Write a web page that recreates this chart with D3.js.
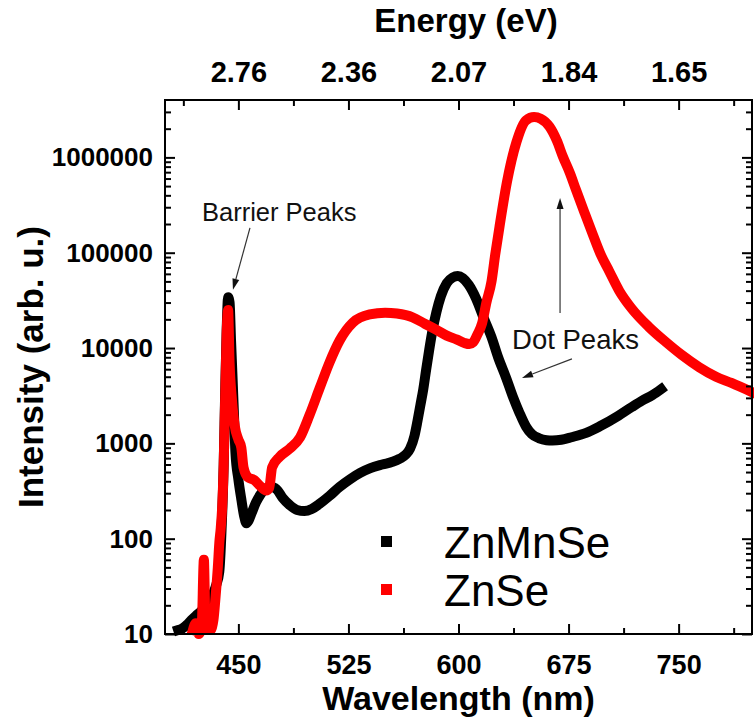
<!DOCTYPE html>
<html><head><meta charset="utf-8">
<script src="https://cdn.jsdelivr.net/npm/d3@7"></script>
<style>
body{margin:0;background:#fff}
svg{display:block}
text{font-family:"Liberation Sans",Arial,Helvetica,sans-serif}
</style>
</head><body>
<svg id="c" width="754" height="720"></svg>
<script>
// ---- data ----
const znmnseWl = [409,412,415,418,421,424,427,430,433,435,437,438.5,440,441,442,443,444,445,446,447,448,450,452,454,455.5,457,459,462,465,469,472,476,480,485,490,495,500,505,512,519,526,533,540,548,555,560,564,567,570,572,574,576,578,580,582,585,588,592,596,599.5,603,607,612,617,622.5,627,632.6,637,641.5,646,650,655,660,664,670,677,687,696,709,718,725,732,738];
const znmnseI  = [11,11.5,12.5,14,15.5,17,19,22,27,33,45,120,600,3400,15000,34000,30000,12000,5000,2000,800,420,260,170,145,155,185,240,290,340,350,330,270,225,200,195,205,230,280,350,420,490,550,600,640,690,760,880,1200,1700,2500,3700,6000,9500,14500,24000,35000,48000,55000,57000,54000,46000,33000,21000,13000,8000,4800,3100,2100,1500,1250,1130,1080,1070,1090,1160,1290,1500,1950,2400,2800,3200,3700];

const znseWl = [419,421,423,425,426.5,427.5,429,431,433,434.5,436,437,438,439,440,441,442,443,444,445.6,447.6,450,452,453.5,456.5,461,464.6,469,471,473,478,485,492,498.6,505.4,512,519,528,539.5,550,558,568.7,577,585,592,598.6,604,607.5,610,613,616,619,622.5,625,628,633,639.5,646,651.5,656,662,667,671,676,680,686,691,697,702.7,709.5,718,730,741.5,752,764,775.5,786,800];
const znseI  = [11,13,10,12,60,15,12,11,14,25,50,90,130,220,600,3000,14000,25000,7000,2900,1500,1100,900,560,440,410,360,320,340,560,720,880,1150,2000,3800,7000,12000,18500,22500,23500,23000,21000,18000,15500,13500,12300,11300,11000,11500,14000,18000,30000,50000,95000,190000,550000,1450000,2450000,2650000,2550000,2100000,1500000,1030000,680000,460000,260000,163000,95000,64000,40000,26000,16500,11500,8500,6300,5000,4300,3450];

const seriesNames = ["ZnMnSe","ZnSe"];
const seriesColors = ["#000000","#ff0000"];

const wlTicks = [450,525,600,675,750];
const wlMinorTicks = [412.5,487.5,562.5,637.5,712.5,787.5];
const energyLabels = ["2.76","2.36","2.07","1.84","1.65"];
const intensityTicks = [10,100,1000,10000,100000,1000000];

const xDomain = [400,800];
const yDomain = [10,4e6];

// ---- drawing ----
const svg = d3.select("#c");
const L=165, R=752, T=100, B=634;
const x = d3.scaleLinear().domain(xDomain).range([L,R]);
const y = d3.scaleLog().domain(yDomain).range([B,T]).clamp(true);

// curves
const line = d3.line().x(d=>x(d[0])).y(d=>y(d[1])).curve(d3.curveMonotoneX);
const series = [
  d3.zip(znmnseWl, znmnseI),
  d3.zip(znseWl, znseI)
];
const gCurves = svg.append("g");
series.forEach((s,i)=>{
  gCurves.append("path").datum(s).attr("d",line)
    .attr("fill","none").attr("stroke",seriesColors[i])
    .attr("stroke-width",10).attr("stroke-linejoin","round").attr("stroke-linecap","square");
});

// minor log ticks
const yMinor = [];
for (let e=1;e<=6;e++) for (let k=2;k<=9;k++){ const v=k*Math.pow(10,e); if(v<yDomain[1]) yMinor.push(v); }

function styleAxis(size){
  return g=>{
    g.select(".domain").remove();
    g.selectAll(".tick line").attr("stroke","#000").attr("stroke-width",2);
    g.selectAll("text").attr("font-size",size).attr("font-weight","bold").attr("fill","#000")
      .style("font-family","'Liberation Sans',Arial,sans-serif");
  };
}

// bottom
svg.append("g").attr("transform",`translate(0,${B})`)
  .call(d3.axisBottom(x).tickValues(wlTicks).tickSize(-10).tickPadding(21).tickFormat(d3.format("d"))).call(styleAxis(27));
svg.append("g").attr("transform",`translate(0,${B})`)
  .call(d3.axisBottom(x).tickValues(wlMinorTicks).tickSize(-6).tickFormat("")).call(styleAxis(27));
// top
svg.append("g").attr("transform",`translate(0,${T})`)
  .call(d3.axisTop(x).tickValues(wlTicks).tickSize(-10).tickPadding(18).tickFormat((d,i)=>energyLabels[i])).call(styleAxis(29));
svg.append("g").attr("transform",`translate(0,${T})`)
  .call(d3.axisTop(x).tickValues(wlMinorTicks).tickSize(-6).tickFormat("")).call(styleAxis(29));
// left
svg.append("g").attr("transform",`translate(${L},0)`)
  .call(d3.axisLeft(y).tickValues(intensityTicks).tickSize(-10).tickPadding(12).tickFormat(d3.format("d"))).call(styleAxis(26));
svg.append("g").attr("transform",`translate(${L},0)`)
  .call(d3.axisLeft(y).tickValues(yMinor).tickSize(-6).tickFormat("")).call(styleAxis(26));
// right
svg.append("g").attr("transform",`translate(${R},0)`)
  .call(d3.axisRight(y).tickValues(intensityTicks).tickSize(-10).tickFormat("")).call(styleAxis(26));
svg.append("g").attr("transform",`translate(${R},0)`)
  .call(d3.axisRight(y).tickValues(yMinor).tickSize(-6).tickFormat("")).call(styleAxis(26));

// frame
svg.append("rect").attr("x",L).attr("y",T).attr("width",R-L).attr("height",B-T)
  .attr("fill","none").attr("stroke","#000").attr("stroke-width",2);

// axis titles
svg.append("text").attr("x",(L+R)/2).attr("y",710).attr("text-anchor","middle")
  .attr("font-size",34).attr("font-weight","bold").text("Wavelength (nm)");
svg.append("text").attr("x",466).attr("y",32).attr("text-anchor","middle")
  .attr("font-size",33).attr("font-weight","bold").text("Energy (eV)");
svg.append("text").attr("transform",`translate(43,${(T+B)/2}) rotate(-90)`).attr("text-anchor","middle")
  .attr("font-size",35).attr("font-weight","bold").text("Intensity (arb. u.)");

// annotations (in data coordinates)
function arrow(x1,y1,x2,y2){
  const X1=x(x1),Y1=y(y1),X2=x(x2),Y2=y(y2);
  const a=Math.atan2(Y2-Y1,X2-X1), len=11, w=3.5;
  const bx=X2-len*Math.cos(a), by=Y2-len*Math.sin(a);
  svg.append("line").attr("x1",X1).attr("y1",Y1).attr("x2",bx).attr("y2",by)
    .attr("stroke","#333").attr("stroke-width",1.2);
  svg.append("path").attr("d",`M${X2},${Y2}L${bx-w*Math.sin(a)},${by+w*Math.cos(a)}L${bx+w*Math.sin(a)},${by-w*Math.cos(a)}Z`)
    .attr("fill","#111");
}
svg.append("text").attr("x",x(425.2)).attr("y",y(216000)).attr("font-size",25.5).attr("fill","#111").text("Barrier Peaks");
arrow(457.9,182000,446.3,40900);
svg.append("text").attr("x",x(636.5)).attr("y",y(9780)).attr("font-size",27.5).attr("fill","#111").text("Dot Peaks");
arrow(669.2,23300,669.2,376000);
arrow(677.3,7700,643.3,4850);

// legend
const leg = svg.append("g");
seriesNames.forEach((n,i)=>{
  const cy = 542 + i*48;
  leg.append("rect").attr("x",381).attr("y",cy-6).attr("width",11).attr("height",11).attr("fill",seriesColors[i]);
  leg.append("text").attr("x",444).attr("y",cy+16).attr("font-size",44).attr("fill","#000").text(n);
});
</script>
</body></html>
